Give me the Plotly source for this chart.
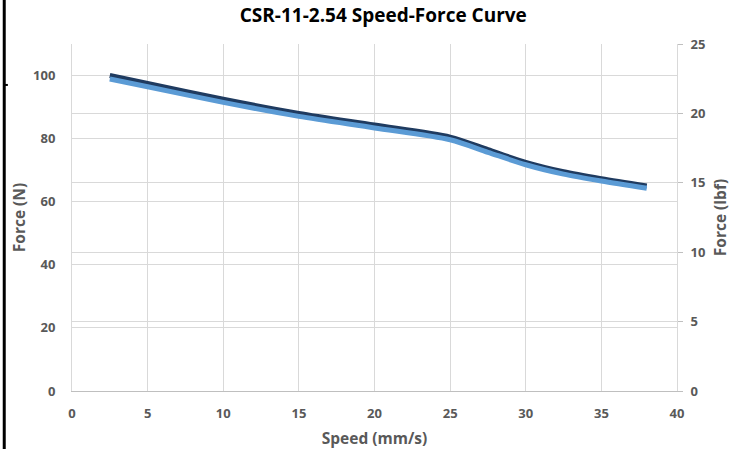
import plotly.graph_objects as go

speed = [2.5, 5, 10, 15, 20, 25, 27.5, 30, 32.5, 35, 38]
force_n = [100, 97.5, 92.5, 88.0, 84.3, 80.5, 76.5, 72.5, 69.5, 67.3, 65.0]
force_lbf = [v / 4.448 for v in force_n]

x_ticks = [0, 5, 10, 15, 20, 25, 30, 35, 40]
n_ticks = [0, 20, 40, 60, 80, 100]
lbf_ticks = [0, 5, 10, 15, 20, 25]

grey = "#595959"
grid = "#D9D9D9"
font_family = "Open Sans, Liberation Sans, sans-serif"

fig = go.Figure()
fig.add_trace(go.Scatter(x=speed, y=force_n, mode="lines", name="Force (N)",
                         line=dict(color="#1F3B60", width=5, shape="spline", smoothing=0.8),
                         yaxis="y"))
fig.add_trace(go.Scatter(x=speed, y=force_lbf, mode="lines", name="Force (lbf)",
                         line=dict(color="#5B9BD5", width=5, shape="spline", smoothing=0.8),
                         yaxis="y2"))

fig.update_layout(
    width=740, height=449,
    margin=dict(l=72, r=63, t=44, b=58, autoexpand=False),
    paper_bgcolor="white", plot_bgcolor="white",
    showlegend=False,
    font=dict(family=font_family, color=grey),
    title=dict(text="<b>CSR-11-2.54 Speed-Force Curve</b>", x=0.518, xanchor="center",
               y=0.965, yanchor="middle",
               font=dict(size=19, color="#000000", family=font_family)),
    xaxis=dict(range=[0, 40], tickvals=x_ticks, ticktext=[f"<b>{t}</b>" for t in x_ticks],
               showgrid=True, gridcolor=grid, gridwidth=1, automargin=False,
               showline=True, linecolor="#BFBFBF", linewidth=1, zeroline=False,
               ticks="", tickfont=dict(size=13, color=grey), ticklabelstandoff=10,
               title=dict(text="<b>Speed (mm/s)</b>", font=dict(size=15.5, color=grey), standoff=12)),
    yaxis=dict(range=[0, 110], tickvals=n_ticks, ticktext=[f"<b>{t}</b>" for t in n_ticks],
               showgrid=True, gridcolor=grid, gridwidth=1, automargin=False,
               showline=True, linecolor=grid, linewidth=1, zeroline=False,
               ticks="", tickfont=dict(size=13, color=grey), ticklabelstandoff=13,
               title=dict(text="<b>Force (N)</b>", font=dict(size=15.5, color=grey), standoff=3)),
    yaxis2=dict(range=[0, 25], tickvals=lbf_ticks, ticktext=[f"<b>{t}</b>" for t in lbf_ticks],
                overlaying="y", side="right", automargin=False,
                showgrid=True, gridcolor=grid, gridwidth=1,
                showline=True, linecolor=grid, linewidth=1, zeroline=False,
                ticks="outside", ticklen=5, tickcolor="#BFBFBF",
                tickfont=dict(size=13, color=grey), ticklabelstandoff=5,
                title=dict(text="<b>Force (lbf)</b>", font=dict(size=15.5, color=grey), standoff=10)),
)

# black border line at the left edge of the image
fig.add_shape(type="line", xref="paper", yref="paper",
              x0=-0.112, x1=-0.112, y0=-0.17, y1=1.13,
              line=dict(color="black", width=3))
fig.add_shape(type="line", xref="paper", yref="paper",
              x0=-0.112, x1=-0.106, y0=0.882, y1=0.882,
              line=dict(color="black", width=2))

fig.write_html("out.html", config={"displayModeBar": False},
               post_script="document.body.style.margin='0';")
